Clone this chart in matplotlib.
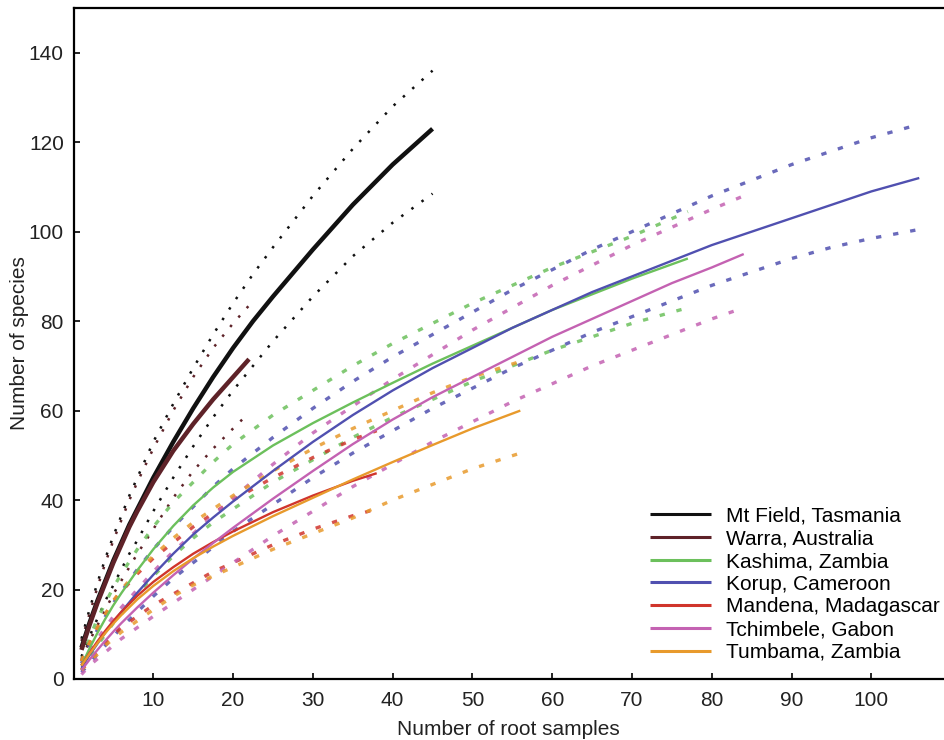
import matplotlib
matplotlib.use("Agg")
import matplotlib.pyplot as plt

plt.rcParams['font.family'] = ['Liberation Sans', 'DejaVu Sans']

# ---------------------------------------------------------------------------
# Data: rarefaction curves (mean) with upper / lower confidence bounds
# ---------------------------------------------------------------------------
sites = ["Mt Field, Tasmania", "Warra, Australia", "Kashima, Zambia",
         "Korup, Cameroon", "Mandena, Madagascar", "Tchimbele, Gabon",
         "Tumbama, Zambia"]

mtfield_x = [1, 2, 3, 4, 5, 6, 7, 8, 10, 12.5, 15, 17.5, 20, 22.5, 25, 30, 35, 40, 45]
mtfield_mean = [7, 12.5, 17.5, 22, 26.5, 30.5, 34.5, 38, 45, 53, 60.5, 67.5, 74,
                80, 85.5, 96, 106, 115, 123]
mtfield_up = [9, 15.5, 21.5, 27, 32, 36.5, 41, 45, 53, 61.5, 69.5, 77, 84, 90.5,
              96.5, 108, 118.5, 128, 136]
mtfield_lo = [5, 9.5, 13.5, 17.5, 21, 24.5, 28, 31, 37.5, 45, 52, 58.5, 64.5, 70,
              75.5, 85.5, 94.5, 102, 108.5]

warra_x = [1, 2, 3, 4, 5, 6, 7, 8, 10, 12.5, 15, 17.5, 20, 22]
warra_mean = [6.5, 12, 17, 21.5, 26, 30, 34, 37.5, 44, 51, 57, 62.5, 67.5, 71.5]
warra_up = [8.5, 14.5, 20.5, 26, 31, 35.5, 40, 44, 51.5, 60, 67.5, 74, 79.5, 83.5]
warra_lo = [4.5, 8.5, 12, 15.5, 19, 22, 25, 28, 33.5, 40.5, 46.5, 51.5, 56, 59.5]

kashima_x = [1, 2, 3, 4, 5, 6, 8, 10, 12.5, 15, 17.5, 20, 25, 30, 35, 40, 45, 50,
             55, 60, 65, 70, 77]
kashima_mean = [3, 6.8, 10.3, 13.5, 16.5, 19.2, 24.3, 29, 34.2, 38.8, 42.8, 46.3,
                52.2, 57.2, 61.8, 66.2, 70.5, 74.5, 78.5, 82.5, 86, 89.5, 94]
kashima_up = [4, 9, 13.5, 17, 20.5, 23.5, 29, 34, 39.5, 44, 48.5, 52.5, 59, 64.5,
              70, 75, 79.5, 84, 88, 92, 95.5, 99, 104.5]
kashima_lo = [2, 5, 7.5, 10, 12.5, 14.5, 19, 23, 27.5, 31.5, 35, 38, 44, 49, 54,
              58.5, 62.5, 66.5, 70, 73.5, 76.5, 79.5, 83]

korup_x = [1, 2, 3, 4, 5, 6, 8, 10, 12.5, 15, 17.5, 20, 25, 30, 35, 40, 45, 50, 55,
           60, 65, 70, 75, 80, 85, 90, 95, 100, 106]
korup_mean = [2.5, 5.3, 7.9, 10.4, 12.8, 15, 19.3, 23.3, 28, 32.3, 36.1, 39.7,
              46.5, 53, 59, 64.5, 69.5, 74, 78.5, 82.5, 86.5, 90, 93.5, 97, 100,
              103, 106, 109, 112]
korup_up = [3.5, 7.5, 11, 14, 17, 19.5, 24.5, 29, 34, 38.5, 43, 47, 54, 60.5, 66.5,
            72, 77, 82, 87, 91.5, 96, 100, 104, 108, 111.5, 115, 118, 121, 124]
korup_lo = [1.5, 3.5, 5.5, 7.5, 9.5, 11.5, 15, 18.5, 22.5, 26, 29.5, 33, 39, 45,
            50.5, 55.5, 60.5, 65, 69.5, 73.5, 77.5, 81, 84.5, 88, 91, 94, 96.5,
            98.5, 100.5]

mandena_x = [1, 2, 3, 4, 5, 6, 8, 10, 12.5, 15, 17.5, 20, 25, 30, 35, 38]
mandena_mean = [3, 5.8, 8.4, 10.8, 13, 15, 18.6, 21.7, 25, 28, 30.6, 33, 37.3, 41,
                44.3, 46]
mandena_up = [4, 8, 11.5, 14.5, 17.5, 19.5, 23.5, 27, 30.5, 34, 37, 40, 45, 49.5,
              53.5, 55.5]
mandena_lo = [2, 4, 6, 8, 10, 11.5, 14, 16.5, 19, 21.5, 24, 26, 30, 33.5, 36.5, 38]

tchimbele_x = [1, 2, 3, 4, 5, 6, 8, 10, 12.5, 15, 17.5, 20, 25, 30, 35, 40, 45, 50,
               55, 60, 65, 70, 75, 80, 84]
tchimbele_mean = [2, 4.3, 6.5, 8.6, 10.6, 12.5, 16, 19.3, 23.2, 26.9, 30.4, 33.8,
                  40.3, 46.5, 52.5, 58, 63, 67.5, 72, 76.5, 80.5, 84.5, 88.5, 92, 95]
tchimbele_up = [3, 6, 9, 11.5, 14, 16, 20, 24, 28.5, 32.5, 36.5, 40.5, 48, 55, 61,
                67, 72.5, 78, 83, 88, 92.5, 97, 101, 105, 108]
tchimbele_lo = [1, 3, 4.5, 6, 7.5, 9, 11.5, 14, 17, 20, 23, 26, 32, 37.5, 43, 48,
                53, 57.5, 62, 66, 70, 73.5, 77, 80.5, 83]

tumbama_x = [1, 2, 3, 4, 5, 6, 8, 10, 12.5, 15, 17.5, 20, 25, 30, 35, 40, 45, 50, 56]
tumbama_mean = [3, 5.6, 8, 10.3, 12.4, 14.3, 17.8, 20.8, 24.1, 27, 29.6, 32, 36.4,
                40.5, 44.6, 48.5, 52.3, 56, 60]
tumbama_up = [4, 8, 11.5, 14.5, 17.5, 20, 24, 27.5, 31.5, 35, 38, 41, 46.5, 51.5,
              56, 60, 64, 67.5, 71]
tumbama_lo = [2, 4, 5.5, 7.5, 9, 10.5, 13, 15.5, 18.5, 21, 23, 25, 29, 32.5, 36,
              40, 43.5, 47, 50.5]

# ---------------------------------------------------------------------------
# Styling
# ---------------------------------------------------------------------------
series = [
    (mtfield_x, mtfield_mean, mtfield_up, mtfield_lo, "#111111", 3.2),
    (warra_x, warra_mean, warra_up, warra_lo, "#5e2228", 3.2),
    (kashima_x, kashima_mean, kashima_up, kashima_lo, "#6cc05c", 1.7),
    (korup_x, korup_mean, korup_up, korup_lo, "#5050b0", 1.7),
    (mandena_x, mandena_mean, mandena_up, mandena_lo, "#d0352c", 1.7),
    (tchimbele_x, tchimbele_mean, tchimbele_up, tchimbele_lo, "#c462b2", 1.7),
    (tumbama_x, tumbama_mean, tumbama_up, tumbama_lo, "#e89a2c", 1.7),
]

FS = 15
fig = plt.figure(figsize=(9.44, 7.4), dpi=100)
ax = fig.add_axes([73.5 / 944, 61 / 740, 870.5 / 944, 671 / 740])

for (x, mean, up, lo, color, lw), name in zip(series, sites):
    if lw > 2:
        # black / maroon: fine round dots
        ci_style = dict(lw=1.8, linestyle=(0, (1, 4)), dash_capstyle="butt")
    else:
        ci_style = dict(lw=2.4, linestyle=(0, (1.6, 3.6)), dash_capstyle="butt",
                        alpha=0.85)
    ax.plot(x, up, color=color, **ci_style)
    ax.plot(x, lo, color=color, **ci_style)

for (x, mean, up, lo, color, lw), name in zip(series, sites):
    ax.plot(x, mean, color=color, lw=lw, label=name, solid_capstyle="butt")

ax.set_xlim(0, 109.1)
ax.set_ylim(0, 150)
ax.set_xticks(range(10, 101, 10))
ax.set_yticks(range(0, 141, 20))
ax.tick_params(direction="in", length=4, width=1.2, labelsize=FS,
               labelcolor="#222222")
ax.tick_params(axis="x", pad=8.5)
ax.tick_params(axis="y", pad=7)
for side in ["left", "bottom", "top"]:
    ax.spines[side].set_linewidth(1.6)
ax.spines["right"].set_visible(False)

ax.set_xlabel("Number of root samples", fontsize=FS, color="#222222", labelpad=7)
ax.set_ylabel("Number of species", fontsize=FS, color="#222222", labelpad=0)

leg = ax.legend(loc="lower right", bbox_to_anchor=(940 / 944, 78 / 740),
                bbox_transform=fig.transFigure, frameon=False, fontsize=FS,
                handlelength=2.9, handletextpad=0.75, labelspacing=0.18,
                borderpad=0, borderaxespad=0)
for line in leg.get_lines():
    line.set_linewidth(2.2)

fig.savefig("out.png", dpi=100)
